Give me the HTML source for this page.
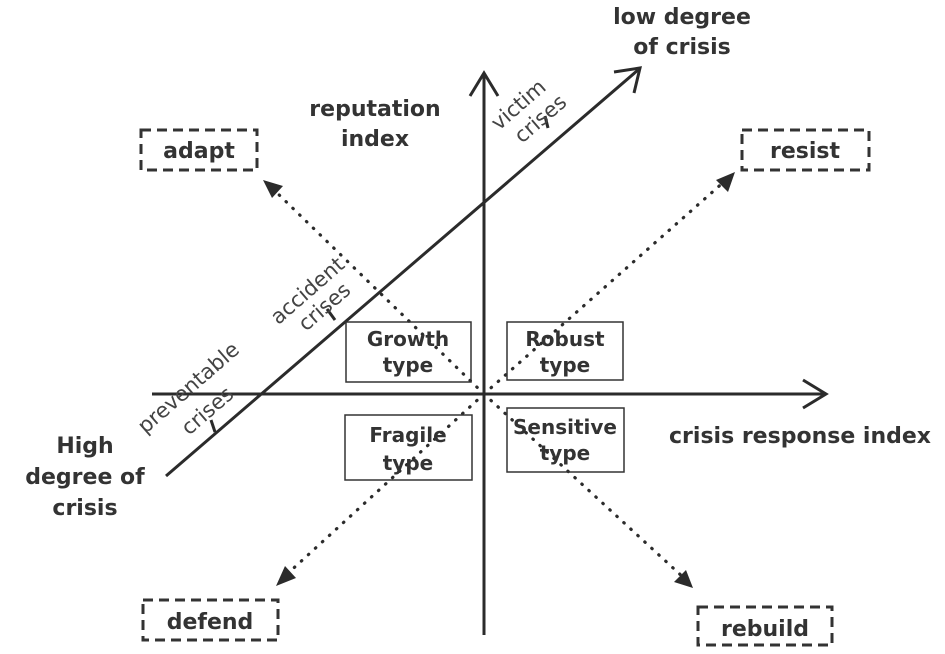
<!DOCTYPE html>
<html><head><style>
body{margin:0;background:#fff;}
svg{display:block;font-family:"DejaVu Sans","Liberation Sans",sans-serif;}
</style></head><body>
<svg width="945" height="654" viewBox="0 0 945 654" xmlns="http://www.w3.org/2000/svg">
<g stroke="#2b2b2b" stroke-width="3" fill="none">
<line x1="484" y1="635" x2="484" y2="74"/>
<polyline points="470,96 484,73 498,96"/>
<line x1="152" y1="394" x2="825" y2="394"/>
<polyline points="803,380 826,394 803,408"/>
<line x1="166" y1="476" x2="638" y2="70"/>
<polyline points="614,72 640,68 634,93"/>
<line x1="327" y1="309" x2="335" y2="320"/>
<line x1="211" y1="420" x2="215" y2="432"/>
<line x1="545" y1="116" x2="548" y2="128"/>
</g>
<g stroke="#2b2b2b" stroke-width="3.2" stroke-dasharray="0.5,9" stroke-linecap="round">
<line x1="484" y1="394" x2="272" y2="188"/>
<line x1="484" y1="394" x2="726" y2="180"/>
<line x1="484" y1="394" x2="285" y2="576"/>
<line x1="484" y1="394" x2="684" y2="578"/>
</g>
<g fill="#2b2b2b">
<polygon points="263,180 283,186 272,198"/>
<polygon points="735,172 728,192 716,180"/>
<polygon points="276,586 285,566 296,578"/>
<polygon points="693,588 674,582 686,570"/>
</g>
<g stroke="#333" stroke-width="1.5" fill="none">
<rect x="346" y="322" width="125" height="60"/>
<rect x="507" y="322" width="116" height="58"/>
<rect x="345" y="415" width="127" height="65"/>
<rect x="507" y="408" width="117" height="64"/>
</g>
<g stroke="#333" stroke-width="3" fill="none" stroke-dasharray="10,6">
<rect x="141" y="130" width="116" height="40"/>
<rect x="742" y="130" width="127" height="40"/>
<rect x="143" y="600" width="135" height="40"/>
<rect x="698" y="607" width="134" height="38"/>
</g>
<g fill="#333" font-weight="bold" font-size="20" text-anchor="middle">
<text x="408" y="346">Growth</text><text x="408" y="372">type</text>
<text x="565" y="346">Robust</text><text x="565" y="372">type</text>
<text x="408" y="442">Fragile</text><text x="408" y="470">type</text>
<text x="565" y="434">Sensitive</text><text x="565" y="460">type</text>
<text x="199" y="158" font-size="22">adapt</text>
<text x="805" y="158" font-size="22">resist</text>
<text x="210" y="629" font-size="22">defend</text>
<text x="765" y="636" font-size="22">rebuild</text>
<text x="375" y="116" font-size="22">reputation</text>
<text x="375" y="146" font-size="22">index</text>
<text x="682" y="24" font-size="22">low degree</text>
<text x="682" y="54" font-size="22">of crisis</text>
<text x="85" y="453" font-size="22">High</text>
<text x="85" y="484" font-size="22">degree of</text>
<text x="85" y="515" font-size="22">crisis</text>
<text x="800" y="443" font-size="22">crisis response index</text>
</g>
<g fill="#444" font-size="21" text-anchor="middle">
<text transform="translate(312,296) rotate(-41)">accident</text>
<text transform="translate(329,312) rotate(-41)">crises</text>
<text transform="translate(193,393) rotate(-41)">preventable</text>
<text transform="translate(212,416) rotate(-41)">crises</text>
<text transform="translate(523,110) rotate(-41)">victim</text>
<text transform="translate(545,124) rotate(-41)">crises</text>
</g>
</svg>
</body></html>
